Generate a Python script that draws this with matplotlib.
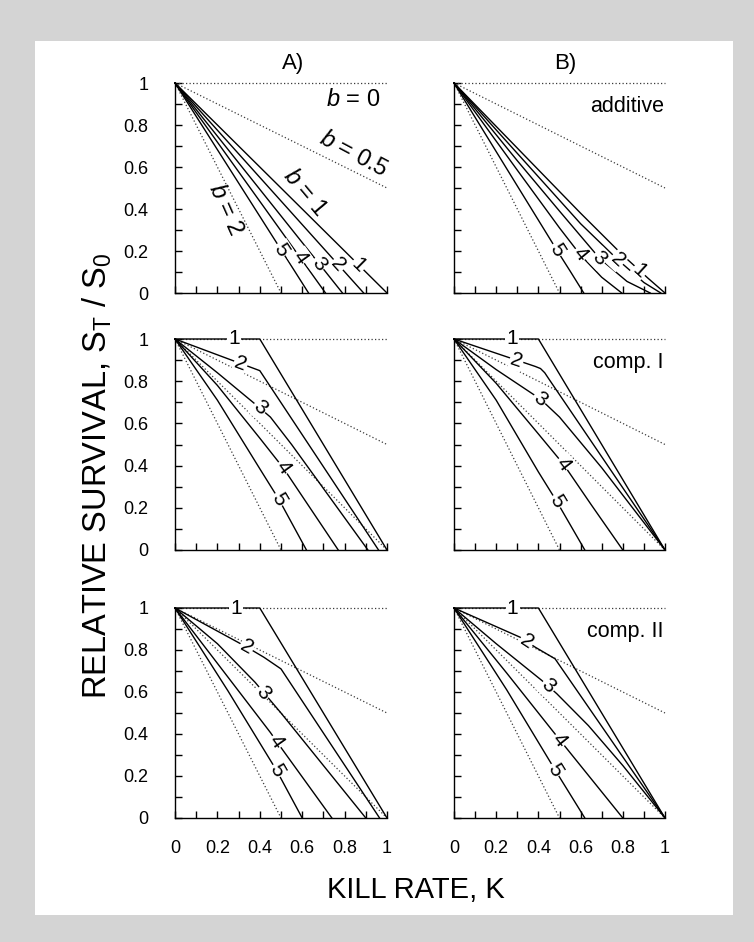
import numpy as np
import matplotlib
matplotlib.use("Agg")
import matplotlib.pyplot as plt
from matplotlib.patches import Rectangle

plt.rcParams['font.family'] = ['Liberation Sans', 'DejaVu Sans']
plt.rcParams['mathtext.fontset'] = 'custom'
plt.rcParams['mathtext.rm'] = 'Liberation Sans'
plt.rcParams['mathtext.it'] = 'Liberation Sans:italic'

# ---- data (K = kill rate, S = relative survival) ----
curve_names = ['1', '2', '3', '4', '5']

# row 1, panel A (additive)
a1_k = [[0, 1.0], [0, 0.89], [0, 0.79], [0, 0.71], [0, 0.63]]
a1_s = [[1, 0], [1, 0], [1, 0], [1, 0], [1, 0]]

# row 1, panel B (additive)
b1_k = [[0, 0.3, 0.6, 0.8, 0.92, 1.0],
        [0, 0.3, 0.6, 0.78, 0.9, 0.98],
        [0, 0.3, 0.5, 0.69, 0.82, 0.93],
        [0, 0.3, 0.5, 0.6, 0.7, 0.795],
        [0, 0.3, 0.49, 0.55, 0.615]]
b1_s = [[1, 0.69, 0.38, 0.18, 0.07, 0],
        [1, 0.665, 0.33, 0.155, 0.05, 0],
        [1, 0.63, 0.39, 0.165, 0.055, 0],
        [1, 0.585, 0.31, 0.18, 0.075, 0],
        [1, 0.51, 0.2, 0.105, 0]]

# row 2, panel A (comp. I)
a2_k = [[0, 0.4, 1.0],
        [0, 0.4, 0.96],
        [0, 0.2, 0.38, 0.45, 0.55, 0.91],
        [0, 0.2, 0.4, 0.51, 0.77],
        [0, 0.2, 0.4, 0.49, 0.62]]
a2_s = [[1, 1, 0],
        [1, 0.85, 0],
        [1, 0.84, 0.69, 0.63, 0.5, 0],
        [1, 0.78, 0.53, 0.39, 0],
        [1, 0.71, 0.385, 0.24, 0]]

# row 2, panel B (comp. I)
b2_k = [[0, 0.4, 1.0],
        [0, 0.385, 0.41, 0.43, 0.45, 1.0],
        [0, 0.2, 0.41, 0.5, 0.7, 1.0],
        [0, 0.2, 0.4, 0.52, 0.65, 0.80],
        [0, 0.2, 0.4, 0.487, 0.62]]
b2_s = [[1, 1, 0],
        [1, 0.87, 0.86, 0.84, 0.81, 0],
        [1, 0.855, 0.715, 0.63, 0.39, 0],
        [1, 0.79, 0.55, 0.405, 0.215, 0],
        [1, 0.71, 0.37, 0.23, 0]]

# row 3, panel A (comp. II)
a3_k = [[0, 0.4, 1.0],
        [0, 0.2, 0.34, 0.42, 0.5, 0.965],
        [0, 0.2, 0.378, 0.418, 0.5, 0.9],
        [0, 0.45, 0.506, 0.74],
        [0, 0.25, 0.48, 0.6]]
a3_s = [[1, 1, 0],
        [1, 0.89, 0.813, 0.765, 0.71, 0],
        [1, 0.83, 0.646, 0.598, 0.5, 0],
        [1, 0.407, 0.327, 0],
        [1, 0.605, 0.225, 0]]

# row 3, panel B (comp. II)
b3_k = [[0, 0.4, 1.0],
        [0, 0.313, 0.384, 0.479, 1.0],
        [0, 0.2, 0.415, 0.487, 0.637, 0.8, 1.0],
        [0, 0.25, 0.502, 0.8],
        [0, 0.25, 0.479, 0.62]]
b3_s = [[1, 1, 0],
        [1, 0.861, 0.814, 0.758, 0],
        [1, 0.83, 0.656, 0.592, 0.44, 0.25, 0],
        [1, 0.69, 0.371, 0],
        [1, 0.61, 0.229, 0]]

# dotted reference lines, b = 0, 0.5, 1, 2
ref_b = ['0', '0.5', '1', '2']
ref_k = [[0, 1], [0, 1], [0, 1], [0, 0.5]]
ref_s = [[1, 1], [1, 0.5], [1, 0], [1, 0]]

panel_notes = ['additive', 'comp. I', 'comp. II']
x_ticks = [0, 0.1, 0.2, 0.3, 0.4, 0.5, 0.6, 0.7, 0.8, 0.9, 1.0]
tick_labels = ['0', '', '0.2', '', '0.4', '', '0.6', '', '0.8', '', '1']

# where the curve numbers sit (K value along each curve)
lab_a1 = [0.866, 0.77, 0.68, 0.59, 0.50]
lab_b1 = [0.88, 0.776, 0.69, 0.597, 0.487]
lab_a2 = [0.28, 0.31, 0.40, 0.51, 0.49]
lab_b2 = [0.276, 0.297, 0.408, 0.518, 0.487]
lab_a3 = [0.287, 0.338, 0.418, 0.48, 0.48]
lab_b3 = [0.278, 0.344, 0.447, 0.502, 0.479]

W, H = 754, 942
fig = plt.figure(figsize=(W / 100, H / 100), dpi=100, facecolor='#d4d4d4')
fig.patches.append(Rectangle((35 / W, 1 - 915 / H), 698 / W, 874 / H,
                             transform=fig.transFigure, facecolor='white',
                             edgecolor='none', zorder=-10))

col_left = [175, 454]
col_w = [212, 211]
row_top = [83, 339, 608]
row_bot = [293, 550, 818]

panels = [
    [(a1_k, a1_s, lab_a1), (b1_k, b1_s, lab_b1)],
    [(a2_k, a2_s, lab_a2), (b2_k, b2_s, lab_b2)],
    [(a3_k, a3_s, lab_a3), (b3_k, b3_s, lab_b3)],
]

DOT = (0, (1, 1.8))


def line_angle(ax, k, s, x0):
    d = 0.01
    p0 = ax.transData.transform((x0 - d, np.interp(x0 - d, k, s)))
    p1 = ax.transData.transform((x0 + d, np.interp(x0 + d, k, s)))
    return np.degrees(np.arctan2(p1[1] - p0[1], p1[0] - p0[0]))


for r in range(3):
    for c in range(2):
        ks, ss, labx = panels[r][c]
        ax = fig.add_axes([col_left[c] / W, 1 - row_bot[r] / H,
                           col_w[c] / W, (row_bot[r] - row_top[r]) / H])
        ax.set_xlim(0, 1)
        ax.set_ylim(0, 1)
        ax.patch.set_alpha(0)
        for sp in ['top', 'right']:
            ax.spines[sp].set_visible(False)
        for sp in ['left', 'bottom']:
            ax.spines[sp].set_linewidth(1.0)
        ax.set_xticks(x_ticks)
        ax.set_yticks(x_ticks)
        ax.set_xticklabels(tick_labels if r == 2 else [''] * len(x_ticks))
        ax.set_yticklabels(tick_labels if c == 0 else [''] * len(x_ticks))
        ax.tick_params(direction='in', length=5, width=1.0, labelsize=13)
        ax.tick_params(axis='x', pad=16)
        ax.tick_params(axis='y', pad=19)

        # dotted reference lines (b = 1 is the solid curve 1 in row 1)
        for i, b in enumerate(ref_b):
            if r == 0 and b == '1':
                continue
            ax.plot(ref_k[i], ref_s[i], color='#3a3a3a', lw=0.9,
                    linestyle=DOT, clip_on=False, zorder=2)

        for i, name in enumerate(curve_names):
            ax.plot(ks[i], ss[i], color='black', lw=1.0, clip_on=False,
                    zorder=3)
            x0 = labx[i]
            y0 = np.interp(x0, ks[i], ss[i])
            rot = line_angle(ax, ks[i], ss[i], x0)
            ax.text(x0, y0, name, fontsize=15, ha='center', va='center',
                    rotation=rot, rotation_mode='anchor', zorder=5,
                    bbox=dict(boxstyle='square,pad=0.06', fc='white',
                              ec='none'))

        if c == 1:
            ax.text(0.995, 0.89, panel_notes[r], fontsize=15.5, ha='right',
                    va='center')

        if r == 0 and c == 0:
            ax.text(0.84, 0.92, r'$b$ = 0', fontsize=17, ha='center',
                    va='center')
            ax.text(0.84, 0.66, r'$b$ = 0.5', fontsize=17, ha='center',
                    va='center', rotation=-28, rotation_mode='anchor')
            ax.text(0.61, 0.48, r'$b$ = 1', fontsize=17, ha='center',
                    va='center', rotation=-50, rotation_mode='anchor')
            ax.text(0.235, 0.40, r'$b$ = 2', fontsize=17, ha='center',
                    va='center', rotation=-66, rotation_mode='anchor')

fig.text(293 / W, 1 - 63 / H, 'A)', fontsize=16, ha='center', va='center')
fig.text(565 / W, 1 - 63 / H, 'B)', fontsize=16, ha='center', va='center')
fig.text(97 / W, 1 - 476 / H, r'RELATIVE SURVIVAL, S$_\mathrm{T}$ / S$_0$',
         fontsize=23.5, rotation=90, ha='center', va='center')
fig.text(416 / W, 1 - 890 / H, 'KILL RATE, K', fontsize=21, ha='center',
         va='center')

fig.savefig('out.png', dpi=100, facecolor=fig.get_facecolor())
